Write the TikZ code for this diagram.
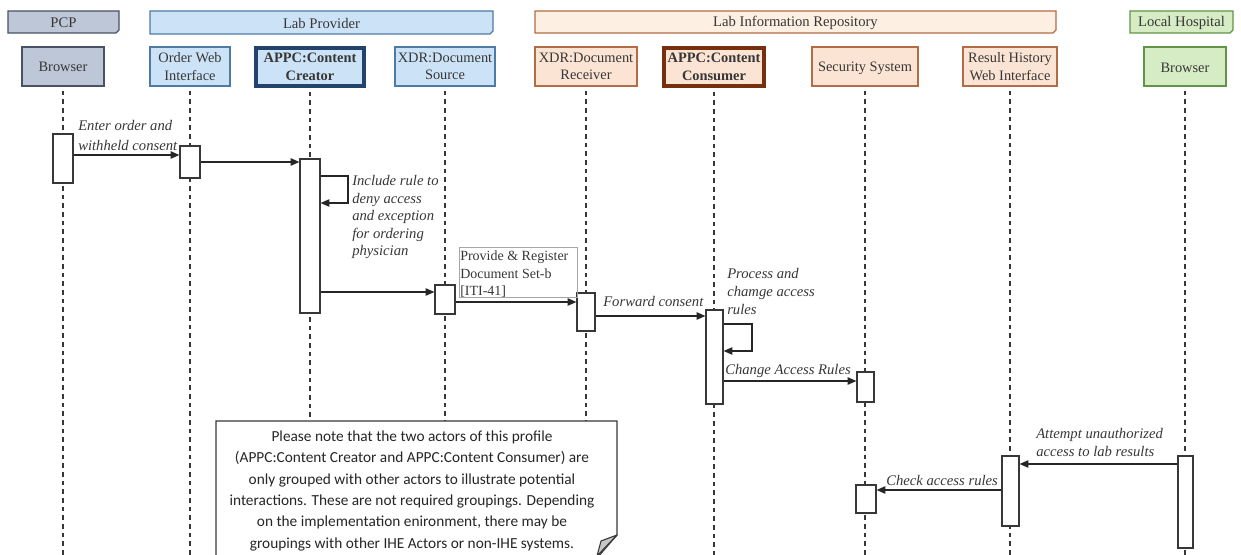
\documentclass[tikz,border=0pt]{standalone}
\usepackage{fontspec}
\setmainfont{Liberation Serif}
\newfontfamily\notefont{Carlito}
\usetikzlibrary{arrows.meta,fit}

\definecolor{pcpfill}{RGB}{190,199,215}
\definecolor{pcpdraw}{RGB}{72,82,98}
\definecolor{provfill}{RGB}{204,227,247}
\definecolor{provdraw}{RGB}{78,122,166}
\definecolor{provbold}{RGB}{34,68,108}
\definecolor{repofill}{RGB}{253,239,225}
\definecolor{repobox}{RGB}{251,228,212}
\definecolor{repodraw}{RGB}{178,108,70}
\definecolor{repobold}{RGB}{118,48,14}
\definecolor{hospfill}{RGB}{214,236,196}
\definecolor{hospdraw}{RGB}{98,148,70}
\definecolor{inkgray}{RGB}{55,55,55}

\begin{document}
\begin{tikzpicture}[x=0.75pt,y=-0.75pt,
  grptxt/.style={font=\fontsize{11}{13}\selectfont, text=inkgray, inner sep=0pt},
  headtxt/.style={font=\fontsize{10.8}{13.2}\selectfont, text=inkgray, align=center},
  headbold/.style={font=\fontsize{10.8}{13.2}\selectfont\bfseries, text=inkgray, align=center},
  head/.style={inner sep=0pt, line width=1pt},
  life/.style={draw=inkgray, dash pattern=on 3.5pt off 3pt, line width=1pt},
  act/.style={draw=inkgray, fill=white, line width=0.9pt, inner sep=0pt},
  msg/.style={-{Triangle[length=6.5pt,width=5.5pt]}, line width=0.9pt, draw=black!85},
  lbl/.style={font=\fontsize{11}{13.5}\selectfont\itshape, align=left, inner sep=0pt, anchor=north west, text=inkgray},
]
\useasboundingbox (0,0) rectangle (1241,555);

% ---- swimlane group headers (folded lower-right corner)
\draw[fill=pcpfill, draw=pcpdraw, line width=1pt]
  (8,11) -- (119,11) -- (119,30) -- (116,33) -- (8,33) -- cycle;
\node[grptxt] (gPCP) at (63.5,22.5) {PCP};
\draw[fill=provfill, draw=provdraw, line width=1pt]
  (150,11) -- (493,11) -- (493,31) -- (490,34) -- (150,34) -- cycle;
\node[grptxt] (gProv) at (321.5,23) {Lab Provider};
\draw[fill=repofill, draw=repodraw, line width=1pt]
  (535,11) -- (1056,11) -- (1056,30) -- (1053,33) -- (535,33) -- cycle;
\node[grptxt] (gRepo) at (795.5,22.5) {Lab Information Repository};
\draw[fill=hospfill, draw=hospdraw, line width=1pt]
  (1130,11) -- (1233,11) -- (1233,30) -- (1230,33) -- (1130,33) -- cycle;
\node[grptxt] (gHosp) at (1181.5,22.5) {Local Hospital};

% ---- lifeline heads
\node[head, fill=pcpfill, draw=pcpdraw, fit={(22,47)(104,86)},
  label={[headtxt]center:Browser}] (hBrowserA) {};
\node[head, fill=provfill, draw=provdraw, fit={(150,47)(230,86)},
  label={[headtxt]center:Order Web\\Interface}] (hOrder) {};
\node[head, fill=provfill, draw=provbold, line width=2.6pt, fit={(256,48)(364,86)},
  label={[headbold]center:APPC:Content\\Creator}] (hCreator) {};
\node[head, fill=provfill, draw=provdraw, fit={(395,47)(495,86)},
  label={[headtxt]center:XDR:Document\\Source}] (hSource) {};
\node[head, fill=repobox, draw=repodraw, fit={(535,47)(637,86)},
  label={[headtxt]center:XDR:Document\\Receiver}] (hReceiver) {};
\node[head, fill=repobox, draw=repobold, line width=2.6pt, fit={(664,48)(764,86)},
  label={[headbold]center:APPC:Content\\Consumer}] (hConsumer) {};
\node[head, fill=repobox, draw=repodraw, fit={(812,47)(918,86)},
  label={[headtxt,yshift=-1.5pt]center:Security System}] (hSecurity) {};
\node[head, fill=repobox, draw=repodraw, fit={(963,47)(1057,86)},
  label={[headtxt]center:Result History\\Web Interface}] (hResult) {};
\node[head, fill=hospfill, draw=hospdraw, fit={(1144,47)(1226,86)},
  label={[headtxt,yshift=-1pt]center:Browser}] (hBrowserB) {};

% ---- lifelines
\foreach \h in {hBrowserA,hOrder,hCreator,hSource,hReceiver,hConsumer,hSecurity,hResult,hBrowserB}
  \draw[life] ([yshift=-3pt]\h.south) -- (\h.south |- 0,555);

% ---- activation bars
\node[act, fit={(53,134)(73,183)}] (aBrowserA) {};
\node[act, fit={(180,146)(200,178)}] (aOrder) {};
\node[act, fit={(300,159)(320,313)}] (aCreator) {};
\node[act, fit={(435,285)(455,314)}] (aSource) {};
\node[act, fit={(577,293)(595,331)}] (aReceiver) {};
\node[act, fit={(706,310)(723,404)}] (aConsumer) {};
\node[act, fit={(857,372)(874,402)}] (aSecurityA) {};
\node[act, fit={(1002,456)(1019,526)}] (aResult) {};
\node[act, fit={(1178,456)(1193,548)}] (aBrowserB) {};

% ---- note
\draw[fill=white, draw=inkgray, line width=0.9pt]
  (216,558) -- (216,421) -- (617,421) -- (617,535) -- (597,558);
\draw[fill=black!22, draw=inkgray, line width=0.8pt, line join=round]
  (617,535) -- (601,541) -- (597,556) -- cycle;
\node[font=\notefont\fontsize{11.5}{16}\selectfont, text=black!85, align=center, inner sep=0pt, anchor=north]
  (note) at (412,430.5) {Please note that the two actors of this profile\\
  (APPC:Content Creator and APPC:Content Consumer) are\\
  only grouped with other actors to illustrate potential\\
  interactions. These are not required groupings. Depending\\
  on the implementation enironment, there may be\\
  groupings with other IHE Actors or non-IHE systems.};

% security bar used by the later check
\node[act, fit={(856,485)(876,513)}] (aSecurityB) {};

% ---- messages
\draw[msg] (aBrowserA.east |- 0,155) -- (aOrder.west |- 0,155);
\node[lbl, font=\fontsize{11}{15}\selectfont\itshape] (lEnter) at (78,120) {Enter order and\\withheld consent};

\draw[msg] (aOrder.east |- 0,162) -- (aCreator.west |- 0,162);

\draw[msg] (aCreator.east |- 0,176) -| (348,203) -- (aCreator.east |- 0,203);
\node[lbl, font=\fontsize{11}{13.2}\selectfont\itshape] (lRule) at (352,175) {Include rule to\\deny access\\and exception\\for ordering\\physician};

\draw[msg] (aCreator.east |- 0,292) -- (aSource.west |- 0,292);

\node[draw=black!35, line width=0.6pt, fit={(459,247)(577,297)}, inner sep=0pt] (bITI) {};
\node[font=\fontsize{10.5}{13}\selectfont, text=inkgray, align=left, inner sep=0pt, anchor=north west]
  (lITI) at (460,251) {Provide \& Register\\Document Set-b\\{[ITI-41]}};
\draw[msg] (aSource.east |- 0,302) -- (aReceiver.west |- 0,302);

\draw[msg] (aReceiver.east |- 0,316) -- (aConsumer.west |- 0,316);
\node[lbl] (lForward) at (603,296) {Forward consent};

\draw[msg] (aConsumer.east |- 0,324) -| (752,351) -- (aConsumer.east |- 0,351);
\node[lbl] (lProcess) at (727,268) {Process and\\chamge access\\rules};

\draw[msg] (aConsumer.east |- 0,381) -- (aSecurityA.west |- 0,381);
\node[lbl] (lChange) at (725,364) {Change Access Rules};

\draw[msg] (aBrowserB.west |- 0,464) -- (aResult.east |- 0,464);
\node[lbl] (lAttempt) at (1036,428) {Attempt unauthorized\\access to lab results};

\draw[msg] (aResult.west |- 0,490) -- (aSecurityB.east |- 0,490);
\node[lbl] (lCheck) at (886,475) {Check access rules};
\end{tikzpicture}
\end{document}
